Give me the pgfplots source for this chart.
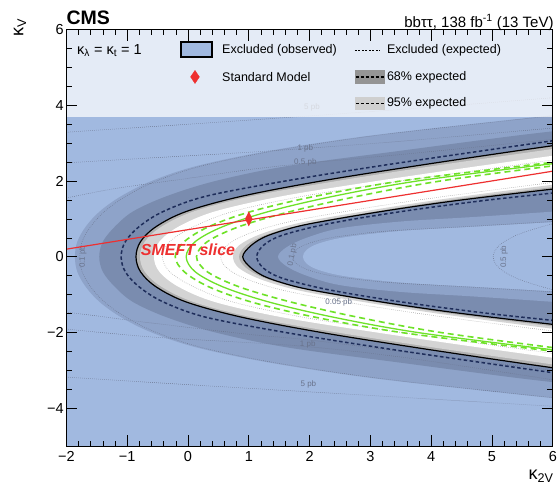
\documentclass[border=0pt]{standalone}
\usepackage{fontspec}
\setmainfont{Liberation Sans}
\usepackage{pgfplots}
\pgfplotsset{compat=1.18}
\definecolor{exclblue}{RGB}{161,185,224}
\definecolor{band95}{RGB}{142,163,201}
\definecolor{band68}{RGB}{122,140,175}
\definecolor{gray68}{RGB}{178,178,178}
\definecolor{gray95}{RGB}{212,212,212}
\definecolor{expnavy}{RGB}{30,45,90}
\definecolor{smred}{RGB}{238,48,48}
\definecolor{hhgreen}{RGB}{110,226,40}
\definecolor{contgray}{RGB}{105,115,140}
\pgfplotsset{
 reg/.style={draw=none, mark=none, smooth, tension=0.55},
 ln/.style={mark=none, smooth, tension=0.55},
 cont/.style={ln, contgray, line width=0.5pt, dash pattern=on 0.6pt off 1.4pt},
}
\tikzset{clab/.style={font=\fontsize{8}{9}\selectfont, text=contgray, inner sep=0.5pt}}
\begin{document}
\begin{tikzpicture}
\path[use as bounding box] (-66.4pt,-44pt) rectangle (490.6pt,446pt);
\begin{axis}[name=ax, at={(0,0)}, anchor=south west, scale only axis,
 width=486.4pt, height=416.4pt,
 xmin=-2, xmax=6, ymin=-5, ymax=6,
 axis on top, axis background/.style={fill=exclblue},
 xtick={-2,-1,0,1,2,3,4,5,6}, xticklabels={−2,−1,0,1,2,3,4,5,6},
 ytick={-4,-2,0,2,4,6}, yticklabels={−4,−2,0,2,4,6},
 minor x tick num=4, minor y tick num=3,
 tick align=inside, xtick pos=both, ytick pos=both,
 xticklabel pos=lower, yticklabel pos=left,
 major tick length=11pt, minor tick length=5.5pt,
 tick style={black, line width=0.6pt},
 axis line style={black, line width=0.9pt},
 ticklabel style={font=\fontsize{14.5}{16}\selectfont},
 xticklabel style={inner sep=2pt, yshift=-3.5pt},
 yticklabel style={inner sep=2.5pt},
 clip mode=individual,
]
% outer bands and allowed region
\addplot[reg, fill=band95] coordinates {(6.4,3.8) (5.2,3.6) (3.0,3.2) (1.35,2.8) (0.15,2.4) (-0.6,2.0) (-1.1,1.6) (-1.45,1.2) (-1.68,0.8) (-1.82,0.4) (-1.86,0) (-1.82,-0.4) (-1.68,-0.8) (-1.45,-1.2) (-1.1,-1.6) (-0.6,-2.0) (0.15,-2.4) (1.35,-2.8) (3.0,-3.2) (5.2,-3.6) (6.4,-3.8)} -- cycle;
\addplot[reg, fill=band68] coordinates {(6.5,3.4) (5.4,3.2) (3.5,2.8) (1.65,2.4) (0.45,2.0) (-0.35,1.6) (-0.9,1.2) (-1.2,0.8) (-1.4,0.4) (-1.46,0) (-1.4,-0.4) (-1.2,-0.8) (-0.9,-1.2) (-0.35,-1.6) (0.45,-2.0) (1.65,-2.4) (3.5,-2.8) (5.4,-3.2) (6.5,-3.4)} -- cycle;
\addplot[reg, fill=gray68] coordinates {(6.74,3.1) (5.42,2.8) (3.75,2.4) (2.19,2.0) (0.89,1.6) (-0.02,1.2) (-0.52,0.8) (-0.78,0.4) (-0.855,0) (-0.78,-0.4) (-0.52,-0.8) (-0.02,-1.2) (0.89,-1.6) (2.19,-2.0) (3.75,-2.4) (5.42,-2.8) (6.74,-3.1)} -- cycle;
\addplot[reg, fill=gray95] coordinates {(6.7,3.0) (5.8,2.8) (4.05,2.4) (2.45,2.0) (1.05,1.6) (0.1,1.2) (-0.43,0.8) (-0.71,0.4) (-0.79,0) (-0.71,-0.4) (-0.43,-0.8) (0.1,-1.2) (1.05,-1.6) (2.45,-2.0) (4.05,-2.4) (5.8,-2.8) (6.7,-3.0)} -- cycle;
\addplot[reg, fill=white] coordinates {(6.6,2.8) (4.8,2.4) (3.1,2.0) (1.55,1.6) (0.45,1.2) (-0.15,0.8) (-0.47,0.4) (-0.56,0) (-0.47,-0.4) (-0.15,-0.8) (0.45,-1.2) (1.55,-1.6) (3.1,-2.0) (4.8,-2.4) (6.6,-2.8)} -- cycle;
% inner structure
\addplot[reg, fill=gray95] coordinates {(6.5,2.0) (5.5,1.8) (4.1,1.5) (2.9,1.2) (1.85,0.9) (1.2,0.6) (0.84,0.3) (0.74,0) (0.84,-0.3) (1.2,-0.6) (1.85,-0.9) (2.9,-1.2) (4.1,-1.5) (5.5,-1.8) (6.5,-2.0)} -- cycle;
\addplot[reg, fill=gray68] coordinates {(6.85,2.0) (5.8,1.8) (4.3,1.5) (3.1,1.2) (2.05,0.9) (1.32,0.6) (0.96,0.3) (0.84,0) (0.96,-0.3) (1.32,-0.6) (2.05,-0.9) (3.1,-1.2) (4.3,-1.5) (5.8,-1.8) (6.85,-2.0)} -- cycle;
\addplot[reg, fill=band68] coordinates {(7.2,2.0) (6.07,1.8) (4.5,1.5) (3.4,1.25) (2.45,1.0) (1.8,0.8) (1.3,0.55) (1.04,0.3) (0.9,0) (1.04,-0.3) (1.3,-0.55) (1.8,-0.8) (2.45,-1.0) (3.4,-1.25) (4.5,-1.5) (6.07,-1.8) (7.2,-2.0)} -- cycle;
\addplot[reg, fill=band95] coordinates {(6.8,1.3) (6.07,1.2) (4.7,1.05) (3.5,0.93) (2.5,0.75) (1.95,0.5) (1.62,0.25) (1.48,0) (1.62,-0.25) (1.95,-0.5) (2.5,-0.75) (3.5,-0.93) (4.7,-1.05) (6.07,-1.2) (6.8,-1.3)} -- cycle;
\addplot[reg, fill=exclblue] coordinates {(7.0,1.02) (6.07,0.92) (4.8,0.8) (3.5,0.68) (2.6,0.52) (2.15,0.35) (1.95,0.18) (1.89,0) (1.95,-0.18) (2.15,-0.35) (2.6,-0.52) (3.5,-0.68) (4.8,-0.8) (6.07,-0.92) (7.0,-1.02)} -- cycle;
% cross-section contours
\addplot[cont] coordinates {(-2,3.29) (0,3.5) (2,3.72) (4,3.95) (6,4.2)};
\addplot[cont] coordinates {(-2,2.48) (-0.5,2.62) (1,2.76) (2,2.87) (3.5,3.05) (6,3.4)};
\addplot[cont] coordinates {(-2,1.55) (-1.2,1.8) (0,2.07) (1,2.3) (2,2.48) (3.5,2.7) (6,3.1)};
\addplot[cont] coordinates {(-2,-1.46) (-0.6,-1.75) (1,-2.05) (2,-2.2) (3.5,-2.5) (6,-3.0)};
\addplot[cont] coordinates {(-2,-1.91) (-0.6,-2.12) (1,-2.27) (2,-2.38) (3.5,-2.65) (6,-3.25)};
\addplot[cont] coordinates {(-2,-3.18) (0,-3.38) (2,-3.57) (4,-3.76) (6,-3.95)};
\addplot[cont] coordinates {(6.48,3.8) (5.28,3.6) (3.08,3.2) (1.43,2.8) (0.23,2.4) (-0.52,2.0) (-1.02,1.6) (-1.37,1.2) (-1.6,0.8) (-1.74,0.4) (-1.78,0) (-1.74,-0.4) (-1.6,-0.8) (-1.37,-1.2) (-1.02,-1.6) (-0.52,-2.0) (0.23,-2.4) (1.43,-2.8) (3.08,-3.2) (5.28,-3.6) (6.48,-3.8)};
\addplot[cont] coordinates {(6.8,1.0) (5.9,0.92) (4.6,0.8) (3.3,0.68) (2.42,0.52) (1.98,0.35) (1.78,0.18) (1.72,0) (1.78,-0.18) (1.98,-0.35) (2.42,-0.52) (3.3,-0.68) (4.6,-0.8) (5.9,-0.92) (6.8,-1.0)};
\addplot[cont] coordinates {(6.6,1.05) (6.07,0.9) (5.45,0.6) (5.12,0.3) (5.02,0) (5.12,-0.3) (5.45,-0.6) (6.07,-0.9) (6.6,-1.05)};
\addplot[ln, gray!80, line width=0.5pt, dash pattern=on 0.6pt off 1.4pt] coordinates {(7.1,2.8) (5.3,2.4) (3.5,2.0) (1.9,1.6) (0.75,1.2) (0.1,0.8) (-0.3,0.4) (-0.42,0) (-0.3,-0.4) (0.1,-0.8) (0.75,-1.2) (1.9,-1.6) (3.5,-2.0) (5.3,-2.4) (7.1,-2.8)};
\addplot[ln, gray!80, line width=0.5pt, dash pattern=on 0.6pt off 1.4pt] coordinates {(6.8,2.1) (6.2,2.0) (5.2,1.8) (3.8,1.5) (2.6,1.2) (1.6,0.9) (0.98,0.6) (0.64,0.3) (0.54,0) (0.64,-0.3) (0.98,-0.6) (1.6,-0.9) (2.6,-1.2) (3.8,-1.5) (5.2,-1.8) (6.2,-2.0) (6.8,-2.1)};
\node[clab] at (axis cs:2.04,3.95) {5 pb};
\node[clab] at (axis cs:1.93,2.85) {1 pb};
\node[clab] at (axis cs:1.93,2.5) {0.5 pb};
\node[clab] at (axis cs:1.97,-2.31) {1 pb};
\node[clab] at (axis cs:1.98,-3.37) {5 pb};
\node[clab] at (axis cs:2.48,-1.2) {0.05 pb};
\node[clab, rotate=90] at (axis cs:-1.73,0) {0.1 pb};
\node[clab, rotate=80] at (axis cs:1.72,0.05) {0.1 pb};
\node[clab, rotate=90] at (axis cs:5.2,0) {0.5 pb};
% green curves
\addplot[ln, hhgreen, line width=1.6pt, dash pattern=on 6pt off 4pt] coordinates {(6.6,2.6) (5.5,2.4) (3.5,2.0) (2.1,1.6) (1.05,1.2) (0.35,0.8) (-0.06,0.4) (-0.21,0) (-0.06,-0.4) (0.35,-0.8) (1.05,-1.2) (2.1,-1.6) (3.5,-2.0) (5.5,-2.4) (6.6,-2.6)};
\addplot[ln, hhgreen, line width=1.6pt, dash pattern=on 6pt off 4pt] coordinates {(7.1,2.6) (6.0,2.4) (4.15,2.0) (2.8,1.6) (1.7,1.2) (0.85,0.8) (0.32,0.4) (0.14,0) (0.32,-0.4) (0.85,-0.8) (1.7,-1.2) (2.8,-1.6) (4.15,-2.0) (6.0,-2.4) (7.1,-2.6)};
\addplot[ln, hhgreen, line width=1.3pt] coordinates {(6.8,2.6) (5.7,2.4) (3.77,2.0) (2.4,1.6) (1.34,1.2) (0.58,0.8) (0.12,0.4) (-0.03,0) (0.12,-0.4) (0.58,-0.8) (1.34,-1.2) (2.4,-1.6) (3.77,-2.0) (5.7,-2.4) (6.8,-2.6)};
% expected lines
\addplot[ln, expnavy, line width=1.5pt, dash pattern=on 3.5pt off 2.5pt] coordinates {(6.6,3.2) (4.85,2.8) (3.15,2.4) (1.6,2.0) (0.3,1.6) (-0.4,1.2) (-0.8,0.8) (-1.03,0.4) (-1.1,0) (-1.03,-0.4) (-0.8,-0.8) (-0.4,-1.2) (0.3,-1.6) (1.6,-2.0) (3.15,-2.4) (4.85,-2.8) (6.6,-3.2)};
\addplot[ln, expnavy, line width=1.5pt, dash pattern=on 3.5pt off 2.5pt] coordinates {(7.2,1.9) (6.1,1.7) (4.95,1.5) (3.75,1.25) (2.75,1.0) (2.1,0.8) (1.52,0.55) (1.24,0.3) (1.13,0) (1.24,-0.3) (1.52,-0.55) (2.1,-0.8) (2.75,-1.0) (3.75,-1.25) (4.95,-1.5) (6.1,-1.7) (7.2,-1.9)};
% observed lines
\addplot[ln, black, line width=1.2pt] coordinates {(6.74,3.1) (5.42,2.8) (3.75,2.4) (2.19,2.0) (0.89,1.6) (-0.02,1.2) (-0.52,0.8) (-0.78,0.4) (-0.855,0) (-0.78,-0.4) (-0.52,-0.8) (-0.02,-1.2) (0.89,-1.6) (2.19,-2.0) (3.75,-2.4) (5.42,-2.8) (6.74,-3.1)};
\addplot[ln, black, line width=1.2pt] coordinates {(7.2,2.0) (6.07,1.8) (4.5,1.5) (3.4,1.25) (2.45,1.0) (1.8,0.8) (1.3,0.55) (1.04,0.3) (0.9,0) (1.04,-0.3) (1.3,-0.55) (1.8,-0.8) (2.45,-1.0) (3.4,-1.25) (4.5,-1.5) (6.07,-1.8) (7.2,-2.0)};
% SMEFT slice and SM
\addplot[smred, line width=1.2pt, mark=none] coordinates {(-2,0.2) (6,2.26)};
\addplot[only marks, mark=diamond*, mark size=7pt, mark options={xscale=0.65, fill=smred, draw=smred}] coordinates {(1,1)};
\node[text=smred, font=\fontsize{16}{18}\selectfont\bfseries\itshape, inner sep=0] at (axis cs:0.0,0.19) {SMEFT slice};
% legend area
\addplot[draw=none, fill=white, fill opacity=0.72, mark=none] coordinates {(-2,3.69) (6,3.69) (6,6) (-2,6)} -- cycle;
\addplot[fill=exclblue, draw=black, line width=1.4pt, mark=none] coordinates {(-0.115,5.28) (0.395,5.28) (0.395,5.67) (-0.115,5.67)} -- cycle;
\addplot[black, line width=0.7pt, dash pattern=on 2pt off 1.5pt, mark=none] coordinates {(2.745,5.45) (3.157,5.45)};
\addplot[only marks, mark=diamond*, mark size=6.5pt, mark options={xscale=0.9, fill=smred, draw=smred}] coordinates {(0.115,4.75)};
\addplot[draw=none, fill=black!42, mark=none] coordinates {(2.745,4.576) (3.24,4.576) (3.24,4.92) (2.745,4.92)} -- cycle;
\addplot[black, line width=1.3pt, dash pattern=on 3pt off 2pt, mark=none] coordinates {(2.76,4.75) (3.225,4.75)};
\addplot[draw=none, fill=black!19, mark=none] coordinates {(2.745,3.876) (3.24,3.876) (3.24,4.22) (2.745,4.22)} -- cycle;
\addplot[black, line width=1.3pt, dash pattern=on 3pt off 2pt, mark=none] coordinates {(2.76,4.05) (3.225,4.05)};
\node[anchor=west, inner sep=0, font=\fontsize{14.5}{16}\selectfont] at (axis cs:-1.826,5.45) {κ\textsubscript{λ} = κ\textsubscript{t} = 1};
\node[anchor=west, inner sep=0, font=\fontsize{12.5}{15}\selectfont] at (axis cs:0.56,5.45) {Excluded (observed)};
\node[anchor=west, inner sep=0, font=\fontsize{12.5}{15}\selectfont] at (axis cs:0.56,4.75) {Standard Model};
\node[anchor=west, inner sep=0, font=\fontsize{12.5}{15}\selectfont] at (axis cs:3.27,5.45) {Excluded (expected)};
\node[anchor=west, inner sep=0, font=\fontsize{12.5}{15}\selectfont] at (axis cs:3.27,4.75) {68\% expected};
\node[anchor=west, inner sep=0, font=\fontsize{12.5}{15}\selectfont] at (axis cs:3.27,4.05) {95\% expected};
\end{axis}
\node[anchor=base west, inner sep=0, font=\fontsize{19.5}{22}\selectfont\bfseries] at ([yshift=5.6pt]ax.north west) {CMS};
\node[anchor=base east, inner sep=0, font=\fontsize{15}{18}\selectfont] at ([yshift=2.5pt,xshift=1pt]ax.north east) {bbττ, 138 fb\textsuperscript{-1} (13 TeV)};
\node[rotate=90, anchor=base east, inner sep=0, font=\fontsize{18}{20}\selectfont] at ([xshift=-43pt,yshift=11pt]ax.north west) {κ\textsubscript{V}};
\node[anchor=north east, inner sep=0, font=\fontsize{18}{20}\selectfont] at ([yshift=-24pt,xshift=1pt]ax.south east) {κ\textsubscript{2V}};
\end{tikzpicture}
\end{document}
